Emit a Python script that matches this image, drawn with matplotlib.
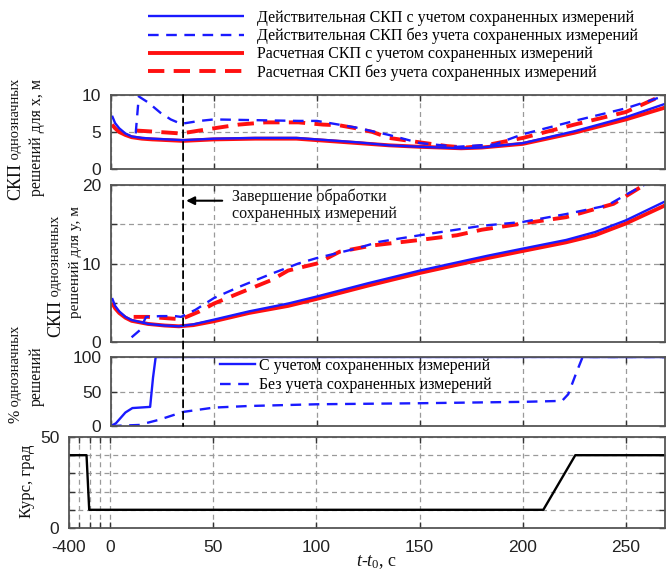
import matplotlib
matplotlib.use('Agg')
import matplotlib.pyplot as plt
from matplotlib.patches import ConnectionPatch

plt.rcParams['mathtext.fontset'] = 'custom'
plt.rcParams['mathtext.rm'] = 'Liberation Serif'
plt.rcParams['mathtext.it'] = 'Liberation Serif:italic'

# ---------------- data ----------------
# panel 1: RMS error of unambiguous solutions, x [m]
x_x_saved = [0.5, 2, 4, 7, 10, 15, 20, 35, 50, 70, 90, 100, 120, 135, 150, 170, 180, 200, 225, 250, 269]
act_x_saved = [7.2, 6.2, 5.5, 4.8, 4.4, 4.2, 4.1, 3.9, 4.1, 4.2, 4.2, 4.0, 3.6, 3.2, 3.0, 2.8, 2.9, 3.5, 5.1, 7.0, 8.8]
calc_x_saved = [6.0, 5.5, 5.0, 4.6, 4.3, 4.1, 4.0, 3.8, 4.0, 4.1, 4.1, 3.9, 3.5, 3.2, 3.0, 2.8, 2.9, 3.4, 4.9, 6.7, 8.3]

x_act_x_nosaved = [12, 12.5, 13.5, 18, 24, 29, 34, 43, 50, 70, 91, 100, 119, 135, 150, 168, 179, 186, 200, 225, 250, 269]
act_x_nosaved = [4.8, 6.5, 9.8, 9.0, 7.6, 6.7, 6.1, 6.5, 6.7, 6.6, 6.5, 6.5, 5.6, 4.6, 3.5, 3.0, 3.2, 3.3, 4.7, 6.5, 8.2, 9.9]

x_calc_x_nosaved = [12, 18, 34, 43, 50, 62, 75, 91, 103, 111, 119, 127, 135, 150, 163, 172, 180, 200, 225, 250, 269]
calc_x_nosaved = [5.2, 5.1, 4.8, 5.2, 5.5, 6.0, 6.3, 6.3, 6.0, 5.9, 5.5, 5.0, 4.2, 3.6, 3.1, 2.9, 3.1, 4.2, 6.0, 7.7, 10.1]

# panel 2: RMS error, y [m]
x_y_saved = [0.5, 2, 4, 7, 10, 18, 26, 33, 40, 50, 67, 86, 100, 125, 150, 183, 200, 221, 235, 250, 269]
act_y_saved = [5.6, 4.6, 3.9, 3.2, 2.8, 2.3, 2.1, 2.0, 2.25, 2.85, 3.9, 4.9, 5.8, 7.5, 9.1, 11.0, 11.9, 13.0, 14.0, 15.5, 17.9]
calc_y_saved = [5.0, 4.3, 3.7, 3.1, 2.7, 2.3, 2.1, 2.0, 2.15, 2.65, 3.7, 4.6, 5.5, 7.2, 8.8, 10.7, 11.6, 12.7, 13.6, 15.1, 17.4]

x_act_y_nosaved = [10, 14, 17, 24, 31, 34, 41, 50, 62, 78, 91, 100, 119, 130, 150, 165, 180, 200, 221, 241, 251, 261]
act_y_nosaved = [0.6, 1.5, 3.2, 3.3, 3.3, 3.2, 4.1, 5.6, 7.0, 8.7, 10.0, 10.7, 11.9, 12.75, 13.6, 14.2, 14.8, 15.3, 16.3, 17.4, 18.9, 20.3]

x_calc_y_nosaved = [11, 18, 34, 43, 50, 62, 78, 86, 100, 111, 127, 150, 168, 180, 200, 221, 244, 257, 262]
calc_y_nosaved = [3.2, 3.2, 2.9, 3.9, 4.9, 6.2, 7.9, 9.1, 10.0, 11.5, 12.3, 13.0, 13.6, 14.3, 15.1, 15.9, 17.6, 19.7, 20.5]

# panel 3: share of unambiguous solutions [%]
x_pct_saved = [0, 2.4, 7, 10.4, 19, 20.4, 21.7, 269]
pct_saved = [0, 4, 19.6, 26, 27.7, 70, 100, 100]
x_pct_nosaved = [0, 13.6, 23.3, 35, 50, 67, 100, 150, 200, 219, 222, 226, 229, 269]
pct_nosaved = [0, 1.5, 9, 20.4, 26.7, 29, 31.5, 33, 35, 36.4, 46, 77.6, 100, 100]

# panel 4: course [deg]
x_course = [-20, -11.5, -10.2, 210, 225.5, 269]
course = [40, 40, 10, 10, 40, 40]

event_t = 35

labels_main = ['Действительная СКП с учетом сохраненных измерений',
               'Действительная СКП без учета сохраненных измерений',
               'Расчетная СКП с учетом сохраненных измерений',
               'Расчетная СКП без учета сохраненных измерений']
labels_pct = ['С учетом сохраненных измерений',
              'Без учета сохраненных измерений']
upper_xticks = [0, 50, 100, 150, 200, 250]
bottom_xticks = [-20, -15, -10, -5, 0, 50, 100, 150, 200, 250]
bottom_xticklabels = ['-400', '', '', '', '0', '50', '100', '150', '200', '250']

# ---------------- figure ----------------
W, H = 668, 579
DPI = 100
fig = plt.figure(figsize=(W / DPI, H / DPI), dpi=DPI)

SERIF = 'Liberation Serif'
SANS = 'Liberation Sans'
BLUE = '#1a1aff'
RED = '#ff1010'
GRID = '#9a9a9a'
SPINE = '#555555'
TXT = '#111111'


def ax_at(l, t, r, b):
    return fig.add_axes([l / W, 1 - b / H, (r - l) / W, (b - t) / H])


ax1 = ax_at(111, 95, 665, 169)
ax2 = ax_at(111, 185, 665, 342)
ax3 = ax_at(111, 357, 665, 426)
ax4 = ax_at(69, 437, 665, 528)

blue_solid = dict(color=BLUE, lw=1.7, solid_capstyle='butt')
red_solid = dict(color=RED, lw=2.8, solid_capstyle='butt')
blue_dash = dict(color=BLUE, lw=1.7, linestyle=(0, (4.5, 3.2)))
red_dash = dict(color=RED, lw=2.8, linestyle=(0, (4.2, 2.4)))

# panel 1
l_rs, = ax1.plot(x_x_saved, calc_x_saved, **red_solid)
l_rd, = ax1.plot(x_calc_x_nosaved, calc_x_nosaved, **red_dash)
l_bd, = ax1.plot(x_act_x_nosaved, act_x_nosaved, **blue_dash)
l_bs, = ax1.plot(x_x_saved, act_x_saved, **blue_solid)

# panel 2
ax2.plot(x_y_saved, calc_y_saved, **red_solid)
ax2.plot(x_calc_y_nosaved, calc_y_nosaved, **red_dash)
ax2.plot(x_act_y_nosaved, act_y_nosaved, **blue_dash)
ax2.plot(x_y_saved, act_y_saved, **blue_solid)

# panel 3
p_s, = ax3.plot(x_pct_saved, pct_saved, color=BLUE, lw=1.7)
p_n, = ax3.plot(x_pct_nosaved, pct_nosaved, color=BLUE, lw=1.7, linestyle=(0, (4.5, 3.2)))

# panel 4
ax4.plot(x_course, course, color='black', lw=1.7)

for ax in (ax1, ax2, ax3):
    ax.set_xlim(0, 269)
    ax.set_xticks(upper_xticks)
    ax.tick_params(labelbottom=False)

ax1.set_ylim(0, 10)
ax1.set_yticks([0, 5, 10])
ax2.set_ylim(0, 20)
ax2.set_yticks([0, 5, 10, 15, 20])
ax2.set_yticklabels(['0', '', '10', '', '20'])
ax3.set_ylim(0, 100)
ax3.set_yticks([0, 50, 100])
ax4.set_xlim(-20, 269)
ax4.set_xticks(bottom_xticks)
ax4.set_xticklabels(bottom_xticklabels)
ax4.set_ylim(0, 50)
ax4.set_yticks([0, 10, 20, 30, 40, 50])
ax4.set_yticklabels(['0', '', '', '', '', '50'])

for ax in (ax1, ax2, ax3, ax4):
    ax.grid(True, color=GRID, linestyle=(0, (4, 3)), lw=0.9)
    ax.set_axisbelow(True)
    ax.tick_params(direction='in', top=True, right=True, length=4, width=1.0,
                   color='#333333', labelsize=12.5)
    ax.tick_params(axis='y', pad=7)
    ax.tick_params(axis='x', pad=9)
    for lab in ax.get_xticklabels() + ax.get_yticklabels():
        lab.set_family(SANS)
        lab.set_color('#222222')
    for s in ax.spines.values():
        s.set_color(SPINE)
        s.set_linewidth(1.3)

# vertical event line across panels 1-3
con = ConnectionPatch(xyA=(event_t, 10), coordsA=ax1.transData,
                      xyB=(event_t, 0), coordsB=ax3.transData,
                      color='black', lw=1.3, linestyle=(0, (4, 2.5)))
fig.add_artist(con)

# annotation
ax2.annotate('', xy=(event_t + 1.5, 18), xytext=(event_t + 19, 18),
             arrowprops=dict(arrowstyle='-|>', color='black', lw=1.5,
                             mutation_scale=12, shrinkA=0, shrinkB=0))
fig.text(232 / W, 1 - 205 / H, 'Завершение обработки\nсохраненных измерений',
         family=SERIF, fontsize=11.5, ha='left', va='center', linespacing=1.1,
         color=TXT)

# legends
fig.legend([l_bs, l_bd, l_rs, l_rd], labels_main, loc='upper left',
           bbox_to_anchor=(148 / W, 1 - 10 / H), frameon=False,
           prop={'family': SERIF, 'size': 11.5}, handlelength=6.0,
           handletextpad=0.8, labelspacing=0.12, borderpad=0, borderaxespad=0)
ax3.legend([p_s, p_n], labels_pct, loc='upper left',
           bbox_to_anchor=(220 / W, 1 - 358 / H), bbox_transform=fig.transFigure,
           frameon=False, prop={'family': SERIF, 'size': 11.5}, handlelength=2.2,
           handletextpad=0.25, labelspacing=0.2, borderpad=0, borderaxespad=0)


# y labels built from pieces of different size
def vlabel(x_px, y_px, pieces, anchor='bottom'):
    s0, f0 = pieces[0]
    t = fig.text(x_px / W, 1 - y_px / H, s0, rotation=90, ha='center',
                 va=anchor, family=SERIF, fontsize=f0, color=TXT)
    prev = t
    for s, f in pieces[1:]:
        prev = ax1.annotate(s, xy=(0.5, 1), xycoords=prev, ha='center',
                            va='bottom', rotation=90, family=SERIF,
                            fontsize=f, color=TXT, annotation_clip=False)
    return t


vlabel(16, 200, [('СКП', 13), (' однозначных', 10.5)])
vlabel(37, 138, [('решений для x, м', 11.5)], anchor='center')
vlabel(56, 337, [('СКП', 13), (' однозначных', 10.5)])
vlabel(75, 262, [('решений для y, м', 11)], anchor='center')
vlabel(16, 423, [('%', 11.5), (' однозначных', 10.5)])
vlabel(37, 376, [('решений', 11.5)], anchor='center')
vlabel(27, 481, [('Курс, град', 12)], anchor='center')

fig.text(377 / W, 1 - 562 / H, '$t$-$t_0$, с', family=SERIF, fontsize=13,
         ha='center', va='center', color=TXT)

fig.savefig('out.png', dpi=DPI)
